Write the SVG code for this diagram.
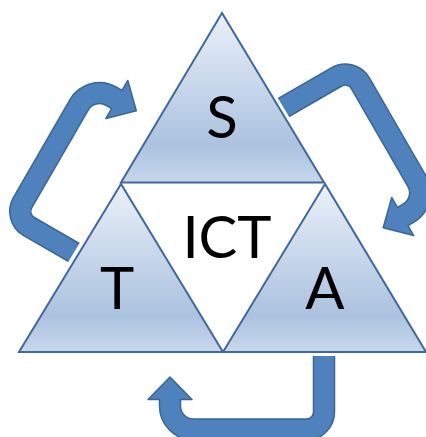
<svg xmlns="http://www.w3.org/2000/svg" xmlns:xlink="http://www.w3.org/1999/xlink" width="426" height="437" viewBox="0 0 426 437">
  <style>
    .tri { fill: url(#triGrad); stroke: #41689a; stroke-width: 2; stroke-linejoin: miter; }
    .halo { fill: none; stroke: #ffffff; stroke-width: 8; stroke-linejoin: round; }
    .arrow { fill: #4f81bd; stroke: #3a6595; stroke-width: 1.5; stroke-linejoin: round; }
    .label { font-family: Lato, "Liberation Sans", sans-serif; font-size: 58px; fill: #000000; text-anchor: middle; }
  </style>
  <defs>
    <linearGradient id="triGrad" x1="0" y1="0" x2="0" y2="1">
      <stop offset="0" stop-color="#ebf0f8"/>
      <stop offset="0.78" stop-color="#abc2e0"/>
      <stop offset="1" stop-color="#c8d7ec"/>
    </linearGradient>
    <path id="uturn" d="M313.5,340 L334.5,340 L334.5,412 A28,28 0 0 1 306.5,440 L193.5,440 A34,34 0 0 1 159.5,406 L159.5,399.5 L148,399.5 L170,377 L192,399.5 L180.5,399.5 L180.5,406 A13,13 0 0 0 193.5,419 L306.5,419 A7,7 0 0 0 313.5,412 Z"/>
  </defs>
  <rect width="426" height="437" fill="#ffffff"/>
  <g id="connectors">
    <use id="arrow-T-S" class="arrow" xlink:href="#uturn" href="#uturn" transform="translate(-3,-7) rotate(120 229.5 238.5)"/>
    <use id="arrow-S-A" class="arrow" xlink:href="#uturn" href="#uturn" transform="translate(4,7) rotate(240 229.5 238.5)"/>
    <use id="arrow-A-T" class="arrow" xlink:href="#uturn" href="#uturn"/>
  </g>
  <polygon class="halo" points="222,13 19,352 426,352"/>
  <g id="node-ICT">
    <polygon points="121,183 324,183 223,352" fill="#ffffff"/>
    <text class="label" x="227" y="258">ICT</text>
  </g>
  <g id="node-S">
    <polygon class="tri" points="222,13 121,182.5 324,182.5"/>
    <text class="label" x="222" y="138">S</text>
  </g>
  <g id="node-T">
    <polygon class="tri" points="121,184 19,352 223,352"/>
    <text class="label" x="117" y="309">T</text>
  </g>
  <g id="node-A">
    <polygon class="tri" points="325,184 223,352 426,352"/>
    <text class="label" x="325" y="309">A</text>
  </g>
</svg>
